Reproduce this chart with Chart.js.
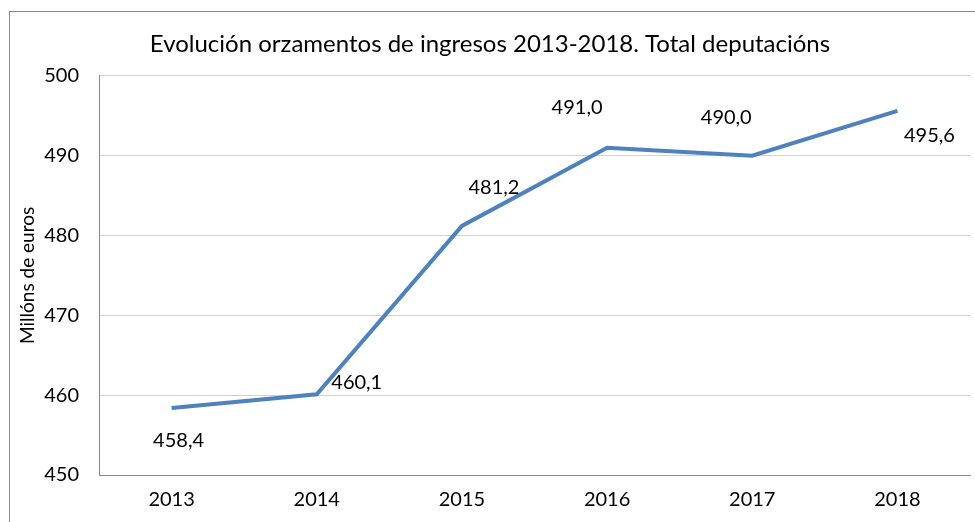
<!DOCTYPE html>
<html>
<head>
<meta charset="utf-8">
<script src="https://cdn.jsdelivr.net/npm/chart.js@4"></script>
<style>
  body { margin: 0; background: #fff; }
  #wrap { width: 975px; height: 522px; }
</style>
</head>
<body>
<div id="wrap"><canvas id="myChart" width="975" height="522"></canvas></div>
<script>
const anos = ['2013', '2014', '2015', '2016', '2017', '2018']
const ingresos = [458.4, 460.1, 481.2, 491.0, 490.0, 495.6]
const yMin = 450
const yMax = 500
const yPaso = 10

// where each value label sits relative to its point
const labelOffsets = [[7, 33], [40, -12], [32, -38], [-30, -40], [-26, -38], [32, 25]]

const fonte = 'Lato, "Open Sans", sans-serif'

const marco = {
    id: 'marco',
    beforeDraw(chart) {
        const c = chart.ctx
        c.save()
        c.fillStyle = '#fff'
        c.fillRect(0, 0, chart.width, chart.height)
        c.strokeStyle = '#888'
        c.lineWidth = 1
        c.strokeRect(9.5, 11.5, 1000, 600)
        c.restore()
    }
}

const etiquetas = {
    id: 'etiquetas',
    afterDatasetsDraw(chart) {
        const c = chart.ctx
        const meta = chart.getDatasetMeta(0)
        c.save()
        c.font = '20px ' + fonte
        c.fillStyle = '#000'
        c.textAlign = 'center'
        c.textBaseline = 'middle'
        meta.data.forEach((p, i) => {
            const txt = ingresos[i].toFixed(1).replace('.', ',')
            c.fillText(txt, p.x + labelOffsets[i][0], p.y + labelOffsets[i][1])
        })
        c.restore()
    }
}

const ctx = document.getElementById('myChart').getContext('2d')

const myChart = new Chart(ctx, {
    type: 'line',
    data: {
        labels: anos,
        datasets: [{
            label: 'Total deputacións',
            data: ingresos,
            borderColor: '#4F81BD',
            backgroundColor: '#4F81BD',
            borderWidth: 4,
            pointRadius: 0,
            tension: 0
        }]
    },
    options: {
        responsive: false,
        animation: false,
        layout: {
            padding: { left: 10, right: 5, top: 0, bottom: 0 }
        },
        plugins: {
            legend: { display: false },
            tooltip: { enabled: false },
            title: {
                display: true,
                text: 'Evolución orzamentos de ingresos 2013-2018. Total deputacións',
                color: '#000',
                font: { family: fonte, size: 24, weight: 'normal' },
                padding: { top: 30, bottom: 17 }
            }
        },
        scales: {
            x: {
                offset: true,
                grid: { display: false, drawTicks: false },
                border: { display: true, color: '#888', width: 1 },
                ticks: {
                    color: '#000',
                    font: { family: fonte, size: 20 },
                    padding: 13,
                    maxRotation: 0
                },
                afterFit(scale) { scale.height = 47 }
            },
            y: {
                min: yMin,
                max: yMax,
                grid: { color: '#c5d3ea', drawTicks: false },
                border: { display: true, color: '#888', width: 1 },
                ticks: {
                    stepSize: yPaso,
                    color: '#000',
                    font: { family: fonte, size: 20 },
                    padding: 20
                },
                title: {
                    display: true,
                    text: 'Millóns de euros',
                    color: '#000',
                    font: { family: fonte, size: 19 },
                    padding: { top: 6, bottom: 0 }
                },
                afterFit(scale) { scale.width = 89 }
            }
        }
    },
    plugins: [marco, etiquetas]
});
</script>
</body>
</html>
